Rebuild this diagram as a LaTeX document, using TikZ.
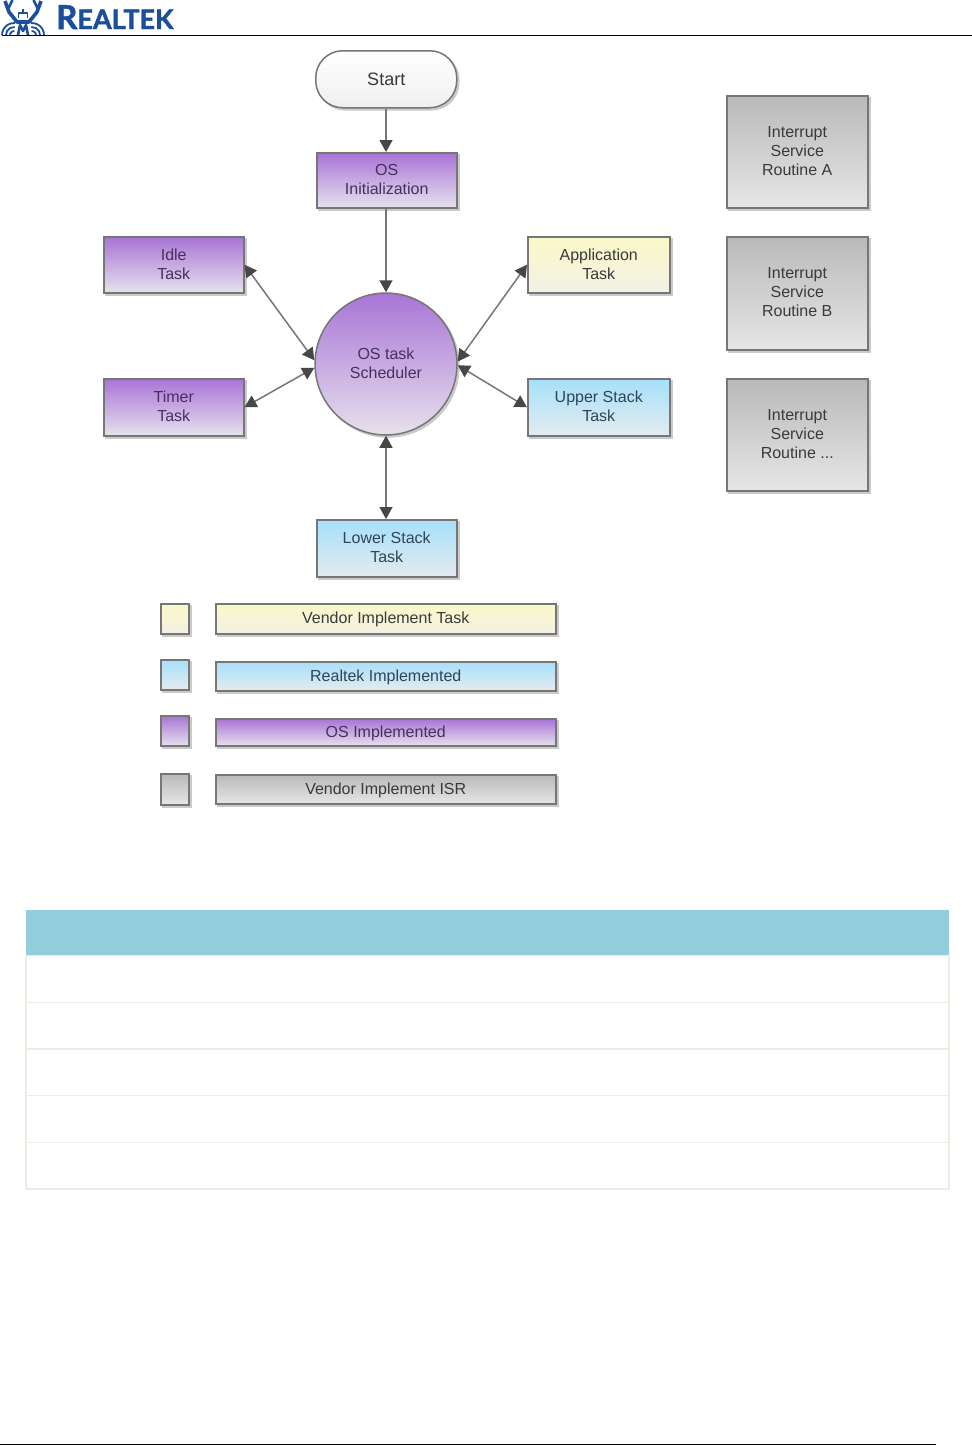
\documentclass[tikz,border=0pt]{standalone}
\usepackage{fontspec}
\setmainfont{Liberation Sans}
\newfontfamily\logofont[FakeBold=1.5]{Lato}
\usetikzlibrary{arrows.meta,positioning,calc}
\definecolor{edgec}{HTML}{767676}
\definecolor{purp}{HTML}{A974D6}
\definecolor{purpl}{HTML}{E6E1EC}
\definecolor{yel}{HTML}{FBF8C8}
\definecolor{yell}{HTML}{F2F1E4}
\definecolor{blu}{HTML}{A6E0FA}
\definecolor{blul}{HTML}{E4EBEF}
\definecolor{gry}{HTML}{B9B9B9}
\definecolor{gryl}{HTML}{E6E6E6}
\definecolor{shad}{HTML}{CACACA}
\definecolor{rlblue}{HTML}{1B4F9C}
\definecolor{tabhead}{HTML}{92CDDC}
\definecolor{tabline}{HTML}{EEECE1}
\definecolor{purptext}{HTML}{45305F}
\definecolor{darktext}{HTML}{3A3A3A}
\definecolor{blutext}{HTML}{2F4558}
\tikzset{
  base/.style={draw=edgec,line width=1.5pt,anchor=north west,inner sep=0pt,align=center,
     font=\fontsize{16}{19}\selectfont,text=darktext,
     preaction={fill=shad,draw=shad,line width=1.5pt,transform canvas={xshift=2pt,yshift=-2pt}}},
  os/.style={base,top color=purp,bottom color=purpl,text=purptext},
  vendor/.style={base,top color=yel,bottom color=yell},
  rtk/.style={base,top color=blu,bottom color=blul,text=blutext},
  isr/.style={base,top color=gry,bottom color=gryl},
  plain/.style={base,top color=white,bottom color=gray!12},
  link/.style={draw=edgec,line width=1.5pt},
  one/.style={link,-{Triangle[length=12pt,width=13pt,color=black!72]}},
  both/.style={link,{Triangle[length=12pt,width=13pt,color=black!72]}-{Triangle[length=12pt,width=13pt,color=black!72]}},
  rule/.style={line width=1.2pt,draw=black},
  tabrule/.style={line width=1.4pt,draw=tabline},
  crab/.style={draw=rlblue,line cap=butt,line join=round}
}
\newcommand{\lift}{\\[-17pt]\mbox{}}
\newcommand{\sink}{\rule{0pt}{13.6pt}}
\newcommand{\bx}[7]{% style,name,x0,y0,x1,y1,text
  \node[#1,minimum width=#5pt-#3pt,minimum height=#6pt-#4pt] (#2) at (#3,#4) {#7};}
\begin{document}
\begin{tikzpicture}[x=1pt,y=-1pt]
\useasboundingbox (0,0) rectangle (972,1446);
\fill[white] (0,0) rectangle (972,1446);
% header logo
\begin{scope}
\clip (0,0) rectangle (50,35);
\draw[crab,line width=3.6pt] (5,1) -- (9,12) -- (17,22) -- (29,22) -- (37,12) -- (41,1);
\draw[crab,line width=2.6pt] (12.5,0) -- (8.5,8);
\draw[crab,line width=2.6pt] (33.5,0) -- (37.5,8);
\draw[crab,line width=2.6pt] (18,35) -- (20,25) -- (23,31) -- (26,25) -- (28,35);
\draw[crab,line width=1.3pt] (18.5,18) -- (18.5,13) -- (27.5,13) -- (27.5,18);
\draw[crab,line width=1.3pt] (23,13) -- (23,9);
\foreach \r in {4,8,12}{
  \draw[crab,line width=1.8pt] (14,35) ++(180:\r) arc (180:275:\r);
  \draw[crab,line width=1.8pt] (32,35) ++(0:\r) arc (0:-95:\r);
}
\end{scope}
\node[anchor=base west,inner sep=0pt,text=rlblue] (logo) at (56,29)
  {\logofont\bfseries\fontsize{33}{33}\selectfont R\fontsize{27}{27}\selectfont EALTEK};
\coordinate (tl) at (2,35.5); \coordinate (tr) at (972,35.5);
\draw[rule] (tl) -- (tr);
\begin{scope}[shift={(-3,-3)}]
% flow nodes
\node[plain,rounded corners=27pt,minimum width=141pt,minimum height=57pt,font=\fontsize{18}{19}\selectfont] (start) at (318,53) {Start};
\bx{os}{init}{319}{155}{459}{210}{OS\\Initialization\lift}
\bx{os}{idle}{106}{239}{246}{295}{Idle\\Task\lift}
\bx{os}{timer}{106}{381}{246}{438}{Timer\\Task\lift}
\bx{vendor}{app}{530}{239}{672}{295}{Application\\Task\lift}
\bx{rtk}{upper}{530}{381}{672}{438}{Upper Stack\\Task\lift}
\bx{rtk}{lower}{319}{522}{459}{579}{Lower Stack\\Task\lift}
\node[os,circle,anchor=center,minimum size=142pt] (sched) at (389,367) {OS task\\Scheduler\lift};
% ISR
\bx{isr}{isra}{729}{98}{870}{210}{Interrupt\\Service\\Routine A\lift}
\bx{isr}{isrb}{729}{239}{870}{352}{Interrupt\\Service\\Routine B\lift}
\bx{isr}{isrc}{729}{381}{870}{493}{Interrupt\\Service\\Routine ...\lift}
% legend
\bx{vendor}{k1}{163}{606}{191}{636}{}
\bx{rtk}{k2}{163}{662}{191}{692}{}
\bx{os}{k3}{163}{718}{191}{748}{}
\bx{isr}{k4}{163}{776}{191}{807}{}
\bx{vendor}{l1}{218}{606}{558}{636}{\sink Vendor Implement Task}
\bx{rtk}{l2}{218}{664}{558}{693}{\sink Realtek Implemented}
\bx{os}{l3}{218}{721}{558}{748}{\sink OS Implemented}
\bx{isr}{l4}{218}{777}{558}{806}{\sink Vendor Implement ISR}
% connectors
\draw[one] (start.south -| sched.north) -- (init.north -| sched.north);
\draw[one] (init.south -| sched.north) -- (sched.north);
\draw[both] (idle.east) -- (sched.177);
\draw[both] (timer.east) -- (sched.183);
\draw[both] (app.west) -- (sched.2);
\draw[both] (upper.west) -- (sched.-1);
\draw[both] (lower.north -| sched.south) -- (sched.south);
\end{scope}
% table
\node[fill=tabhead,anchor=north west,inner sep=0pt,minimum width=923pt,minimum height=45pt] (thead) at (26,910) {};
\coordinate (r1l) at (26,955.5); \coordinate (r1r) at (949,955.5);
\coordinate (r2l) at (26,1002.5); \coordinate (r2r) at (949,1002.5);
\coordinate (r3l) at (26,1049); \coordinate (r3r) at (949,1049);
\coordinate (r4l) at (26,1095.5); \coordinate (r4r) at (949,1095.5);
\coordinate (r5l) at (26,1142.5); \coordinate (r5r) at (949,1142.5);
\coordinate (r6l) at (26,1189); \coordinate (r6r) at (949,1189);
\foreach \n in {1,...,6}{\draw[tabrule] (r\n l) -- (r\n r);}
\draw[tabrule] (r1l) -- (r6l);
\draw[tabrule] (r1r) -- (r6r);
% footer
\coordinate (bl) at (0,1444.5); \coordinate (br) at (936,1444.5);
\draw[rule,line width=1.8pt] (bl) -- (br);
\end{tikzpicture}
\end{document}
